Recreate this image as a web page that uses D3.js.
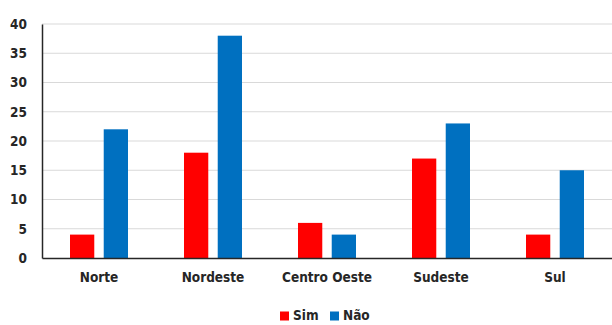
<!DOCTYPE html>
<html>
<head>
<meta charset="utf-8">
<script src="https://cdn.jsdelivr.net/npm/d3@7"></script>
<style>
  body { margin: 0; background: #fff; }
  svg text { font-family: "Liberation Sans Narrow", "Arial Narrow", "DejaVu Sans Condensed", sans-serif; font-weight: bold; fill: #262626; }
</style>
</head>
<body>
<svg id="chart" width="612" height="325"></svg>
<script>
const regions = ['Norte', 'Nordeste', 'Centro Oeste', 'Sudeste', 'Sul'];
const series = ['Sim', 'Não'];
const simValues = [4, 18, 6, 17, 4];
const naoValues = [22, 38, 4, 23, 15];
const yTicks = [0, 5, 10, 15, 20, 25, 30, 35, 40];
const colors = ['#ff0000', '#0070c0'];

const data = regions.map((r, i) => ({region: r, values: [simValues[i], naoValues[i]]}));

const svg = d3.select('#chart');
const margin = {top: 24, left: 42, right: 0, bottom: 67};
const width = 612 - margin.left - margin.right;
const height = 325 - margin.top - margin.bottom;

const x = d3.scaleBand().domain(regions).range([0, width]);
const xInner = d3.scaleBand().domain(series).range([x.bandwidth() / 2 - 29, x.bandwidth() / 2 + 29]).paddingInner(0.28);
const y = d3.scaleLinear().domain([0, 40]).range([height, 0]);
const color = d3.scaleOrdinal().domain(series).range(colors);

const g = svg.append('g').attr('transform', `translate(${margin.left},${margin.top})`);

// gridlines
g.append('g')
  .selectAll('line')
  .data(yTicks.filter(t => t > 0))
  .join('line')
  .attr('x1', 0).attr('x2', width)
  .attr('y1', d => y(d)).attr('y2', d => y(d))
  .attr('stroke', '#d9d9d9').attr('stroke-width', 1);

// bars
const groups = g.selectAll('.grp')
  .data(data)
  .join('g')
  .attr('class', 'grp')
  .attr('transform', d => `translate(${x(d.region)},0)`);
groups.selectAll('rect')
  .data(d => d.values.map((v, i) => ({key: series[i], value: v})))
  .join('rect')
  .attr('x', d => xInner(d.key))
  .attr('width', xInner.bandwidth())
  .attr('y', d => y(d.value))
  .attr('height', d => height - y(d.value))
  .attr('fill', d => color(d.key));

// y axis
const yAxis = g.append('g')
  .call(d3.axisLeft(y).tickValues(yTicks).tickSize(0).tickPadding(15));
yAxis.select('.domain').attr('stroke', '#262626').attr('stroke-width', 1.5);
yAxis.selectAll('text').style('font-size', '13.5px').attr('fill', '#262626');

// x axis
const xAxis = g.append('g')
  .attr('transform', `translate(0,${height})`)
  .call(d3.axisBottom(x).tickSize(0).tickPadding(14));
xAxis.select('.domain').attr('stroke', '#262626').attr('stroke-width', 1.5);
xAxis.selectAll('text').style('font-size', '13.5px').attr('fill', '#262626');

// legend
const legend = svg.append('g').attr('transform', 'translate(280,312)');
const items = legend.selectAll('g')
  .data(series)
  .join('g')
  .attr('transform', (d, i) => `translate(${i * 50},0)`);
items.append('rect')
  .attr('width', 9).attr('height', 9).attr('y', -0.5)
  .attr('fill', d => color(d));
items.append('text')
  .attr('x', 13).attr('y', 4)
  .attr('dominant-baseline', 'middle')
  .style('font-size', '13.5px')
  .text(d => d);
</script>
</body>
</html>
